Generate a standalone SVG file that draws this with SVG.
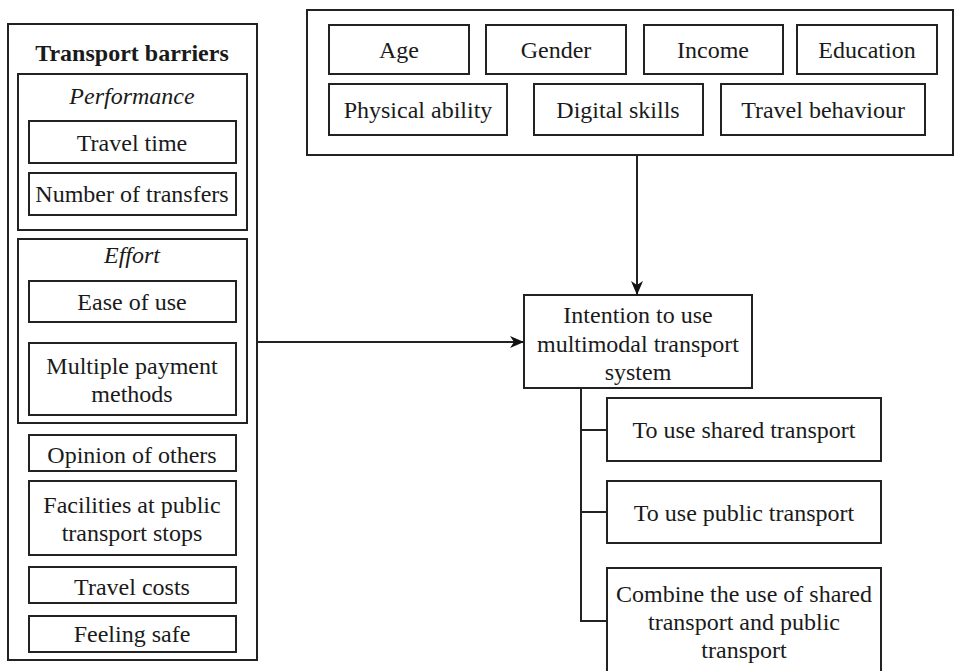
<svg xmlns="http://www.w3.org/2000/svg" width="955" height="671" viewBox="0 0 955 671">
<style>
rect{fill:#fff;stroke:#222;stroke-width:2}
text{font-family:"Liberation Serif","Times New Roman",serif;font-size:24px;fill:#1a1a1a;text-anchor:middle}
.b{font-weight:bold}
.i{font-style:italic}
.c{stroke:#222;stroke-width:2;fill:none}
</style>
<defs>
<marker id="ah" viewBox="0 0 14 12" refX="14" refY="6" markerWidth="14" markerHeight="12" markerUnits="userSpaceOnUse" orient="auto">
<path d="M0,0 L14,6 L0,12 L4,6 Z" fill="#111"/>
</marker>
</defs>
<rect x="0" y="0" width="955" height="671" style="stroke:none"/>
<g id="barriers">
<rect x="8" y="24" width="249" height="636"/>
<text class="b" x="132" y="61">Transport barriers</text>
</g>
<g id="performance">
<rect x="18" y="74" width="229" height="156"/>
<text class="i" x="132" y="104">Performance</text>
</g>
<g id="travel-time"><rect x="29" y="121" width="207" height="42"/><text x="132" y="151">Travel time</text></g>
<g id="transfers"><rect x="29" y="173" width="207" height="42"/><text x="132" y="202">Number of transfers</text></g>
<g id="effort">
<rect x="18" y="239" width="229" height="184"/>
<text class="i" x="132" y="263">Effort</text>
</g>
<g id="ease"><rect x="29" y="281" width="207" height="41"/><text x="132" y="310">Ease of use</text></g>
<g id="payment"><rect x="29" y="343" width="207" height="72"/><text x="132" y="374">Multiple payment</text><text x="132" y="402">methods</text></g>
<g id="opinion"><rect x="29" y="435" width="207" height="36"/><text x="132" y="463">Opinion of others</text></g>
<g id="facilities"><rect x="29" y="481" width="207" height="74"/><text x="132" y="513">Facilities at public</text><text x="132" y="541">transport stops</text></g>
<g id="costs"><rect x="29" y="567" width="207" height="36"/><text x="132" y="595">Travel costs</text></g>
<g id="safe"><rect x="29" y="616" width="207" height="36"/><text x="132" y="642">Feeling safe</text></g>

<g id="factors"><rect x="307" y="10" width="646" height="145"/></g>
<g id="age"><rect x="329" y="25" width="140" height="49"/><text x="399" y="58">Age</text></g>
<g id="gender"><rect x="486" y="25" width="140" height="49"/><text x="556" y="58">Gender</text></g>
<g id="income"><rect x="644" y="25" width="139" height="49"/><text x="713" y="58">Income</text></g>
<g id="education"><rect x="797" y="25" width="140" height="49"/><text x="867" y="58">Education</text></g>
<g id="physical"><rect x="329" y="84" width="178" height="51"/><text x="418" y="118">Physical ability</text></g>
<g id="digital"><rect x="534" y="84" width="169" height="51"/><text x="618" y="118">Digital skills</text></g>
<g id="behaviour"><rect x="721" y="84" width="204" height="51"/><text x="823" y="118">Travel behaviour</text></g>

<g id="intention"><rect x="524" y="295" width="228" height="93"/>
<text x="638" y="323">Intention to use</text><text x="638" y="352">multimodal transport</text><text x="638" y="380">system</text></g>
<g id="shared"><rect x="607" y="398" width="274" height="63"/><text x="744" y="438">To use shared transport</text></g>
<g id="public"><rect x="607" y="481" width="274" height="62"/><text x="744" y="521">To use public transport</text></g>
<g id="combine"><rect x="607" y="568" width="274" height="110"/>
<text x="744" y="602">Combine the use of shared</text><text x="744" y="630">transport and public</text><text x="744" y="658">transport</text></g>

<g id="connectors">
<line class="c" x1="637" y1="155" x2="637" y2="295" marker-end="url(#ah)"/>
<line class="c" x1="257" y1="342" x2="524" y2="342" marker-end="url(#ah)"/>
<path class="c" d="M581,388 V621 H607 M581,430 H607 M581,512 H607"/>
</g>
</svg>
